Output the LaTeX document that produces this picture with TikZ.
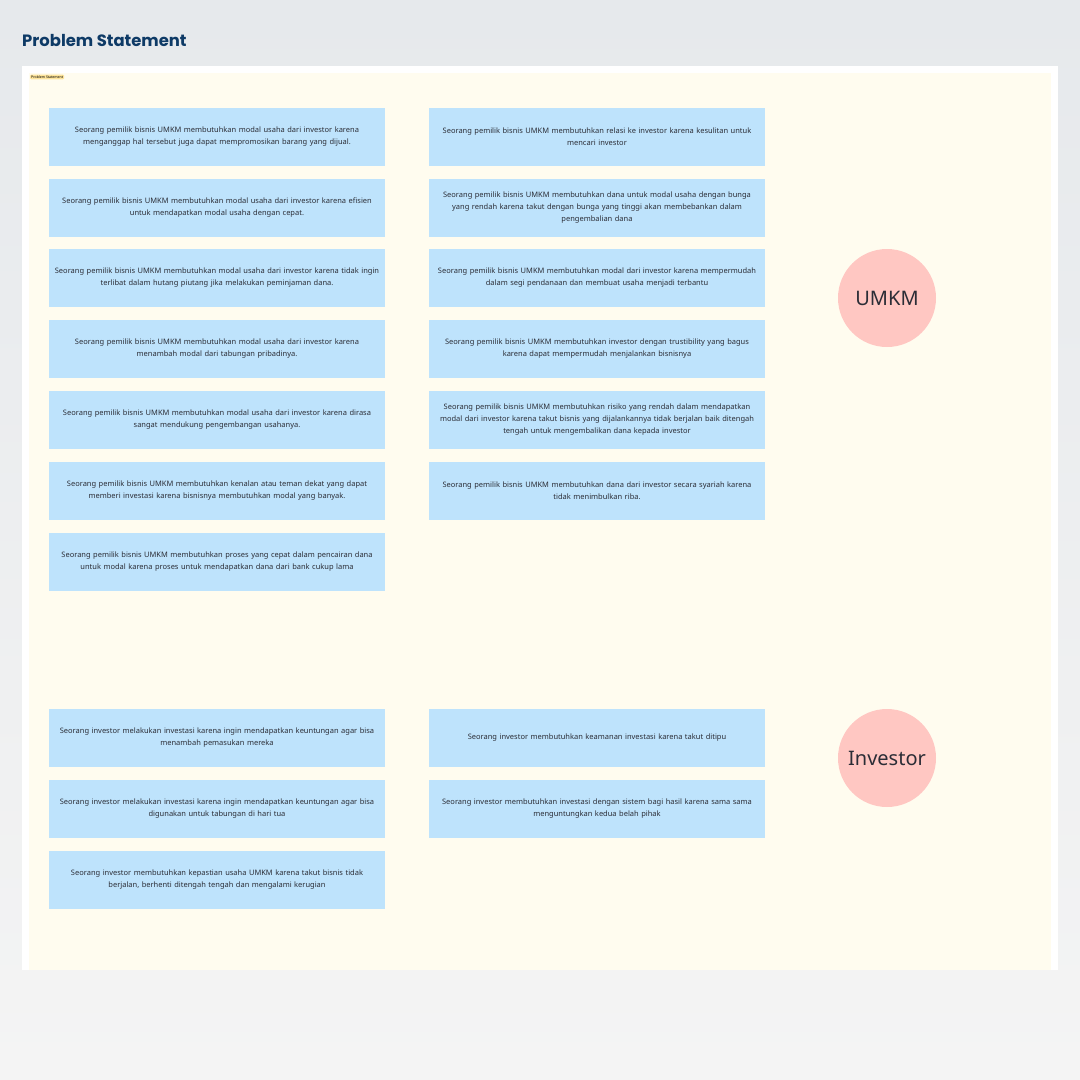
\documentclass[tikz,border=0pt]{standalone}
\usepackage{fontspec}
\setmainfont{Noto Sans}
\newfontfamily\titlefont{Poppins}
\definecolor{bgtop}{HTML}{E6E9EC}
\definecolor{bgbot}{HTML}{F4F4F4}
\definecolor{paper}{HTML}{FFFCEF}
\definecolor{sticky}{HTML}{BEE3FC}
\definecolor{bubble}{HTML}{FFC7C2}
\definecolor{navy}{HTML}{0E3A66}
\definecolor{ink}{HTML}{2B2D36}
\definecolor{tagfill}{HTML}{FDE49B}
\begin{document}
\begin{tikzpicture}[x=1pt, y=-1pt,
    note/.style={fill=sticky, text=ink, text width=328pt, inner sep=4pt, minimum height=58pt,
        align=center, font=\fontsize{7.5}{12}\selectfont},
    persona/.style={circle, fill=bubble, minimum size=98pt, inner sep=0pt, text=ink,
        font=\fontsize{20}{24}\selectfont}]
            % Draw the background and the board
            \useasboundingbox (0,0) rectangle (1080,1080);
            \shade[top color=bgtop, bottom color=bgbot] (0,0) rectangle (1080,1080);
            \fill[white] (22,66) rectangle (1058,970);
            \fill[paper] (29,73) rectangle (1051,970);

            \node[anchor=west, text=navy, font=\titlefont\bfseries\fontsize{16.4}{20}\selectfont, inner sep=0pt] (title) at (22,40) {Problem Statement};
            \node[anchor=west, fill=tagfill, rounded corners=1pt, inner sep=1pt, font=\fontsize{3.5}{4}\selectfont] (tag) at (30,77) {Problem Statement};

            % Draw the notes of the UMKM
            \node[note] (u1) at (217,137) {Seorang pemilik bisnis UMKM membutuhkan modal usaha dari investor karena\\menganggap hal tersebut juga dapat mempromosikan barang yang dijual.};
            \node[note] (u2) at (217,208) {Seorang pemilik bisnis UMKM membutuhkan modal usaha dari investor karena efisien\\untuk mendapatkan modal usaha dengan cepat.};
            \node[note] (u3) at (217,278) {Seorang pemilik bisnis UMKM membutuhkan modal usaha dari investor karena tidak ingin\\terlibat dalam hutang piutang jika melakukan peminjaman dana.};
            \node[note] (u4) at (217,349) {Seorang pemilik bisnis UMKM membutuhkan modal usaha dari investor karena\\menambah modal dari tabungan pribadinya.};
            \node[note] (u5) at (217,420) {Seorang pemilik bisnis UMKM membutuhkan modal usaha dari investor karena dirasa\\sangat mendukung pengembangan usahanya.};
            \node[note] (u6) at (217,491) {Seorang pemilik bisnis UMKM membutuhkan kenalan atau teman dekat yang dapat\\memberi investasi karena bisnisnya membutuhkan modal yang banyak.};
            \node[note] (u7) at (217,562) {Seorang pemilik bisnis UMKM membutuhkan proses yang cepat dalam pencairan dana\\untuk modal karena proses untuk mendapatkan dana dari bank cukup lama};

            \node[note] (u8) at (597,137) {Seorang pemilik bisnis UMKM membutuhkan relasi ke investor karena kesulitan untuk\\mencari investor};
            \node[note] (u9) at (597,208) {Seorang pemilik bisnis UMKM membutuhkan dana untuk modal usaha dengan bunga\\yang rendah karena takut dengan bunga yang tinggi akan membebankan dalam\\pengembalian dana};
            \node[note] (u10) at (597,278) {Seorang pemilik bisnis UMKM membutuhkan modal dari investor karena mempermudah\\dalam segi pendanaan dan membuat usaha menjadi terbantu};
            \node[note] (u11) at (597,349) {Seorang pemilik bisnis UMKM membutuhkan investor dengan trustibility yang bagus\\karena dapat mempermudah menjalankan bisnisnya};
            \node[note] (u12) at (597,420) {Seorang pemilik bisnis UMKM membutuhkan risiko yang rendah dalam mendapatkan\\modal dari investor karena takut bisnis yang dijalankannya tidak berjalan baik ditengah\\tengah untuk mengembalikan dana kepada investor};
            \node[note] (u13) at (597,491) {Seorang pemilik bisnis UMKM membutuhkan dana dari investor secara syariah karena\\tidak menimbulkan riba.};

            \node[persona] (umkm) at (887,298) {UMKM};

            % Draw the notes of the investor
            \node[note] (i1) at (217,738) {Seorang investor melakukan investasi karena ingin mendapatkan keuntungan agar bisa\\menambah pemasukan mereka};
            \node[note] (i2) at (217,809) {Seorang investor melakukan investasi karena ingin mendapatkan keuntungan agar bisa\\digunakan untuk tabungan di hari tua};
            \node[note] (i3) at (217,880) {Seorang investor membutuhkan kepastian usaha UMKM karena takut bisnis tidak\\berjalan, berhenti ditengah tengah dan mengalami kerugian};

            \node[note] (i4) at (597,738) {Seorang investor membutuhkan keamanan investasi karena takut ditipu};
            \node[note] (i5) at (597,809) {Seorang investor membutuhkan investasi dengan sistem bagi hasil karena sama sama\\menguntungkan kedua belah pihak};

            \node[persona] (investor) at (887,758) {Investor};
        \end{tikzpicture}
\end{document}
